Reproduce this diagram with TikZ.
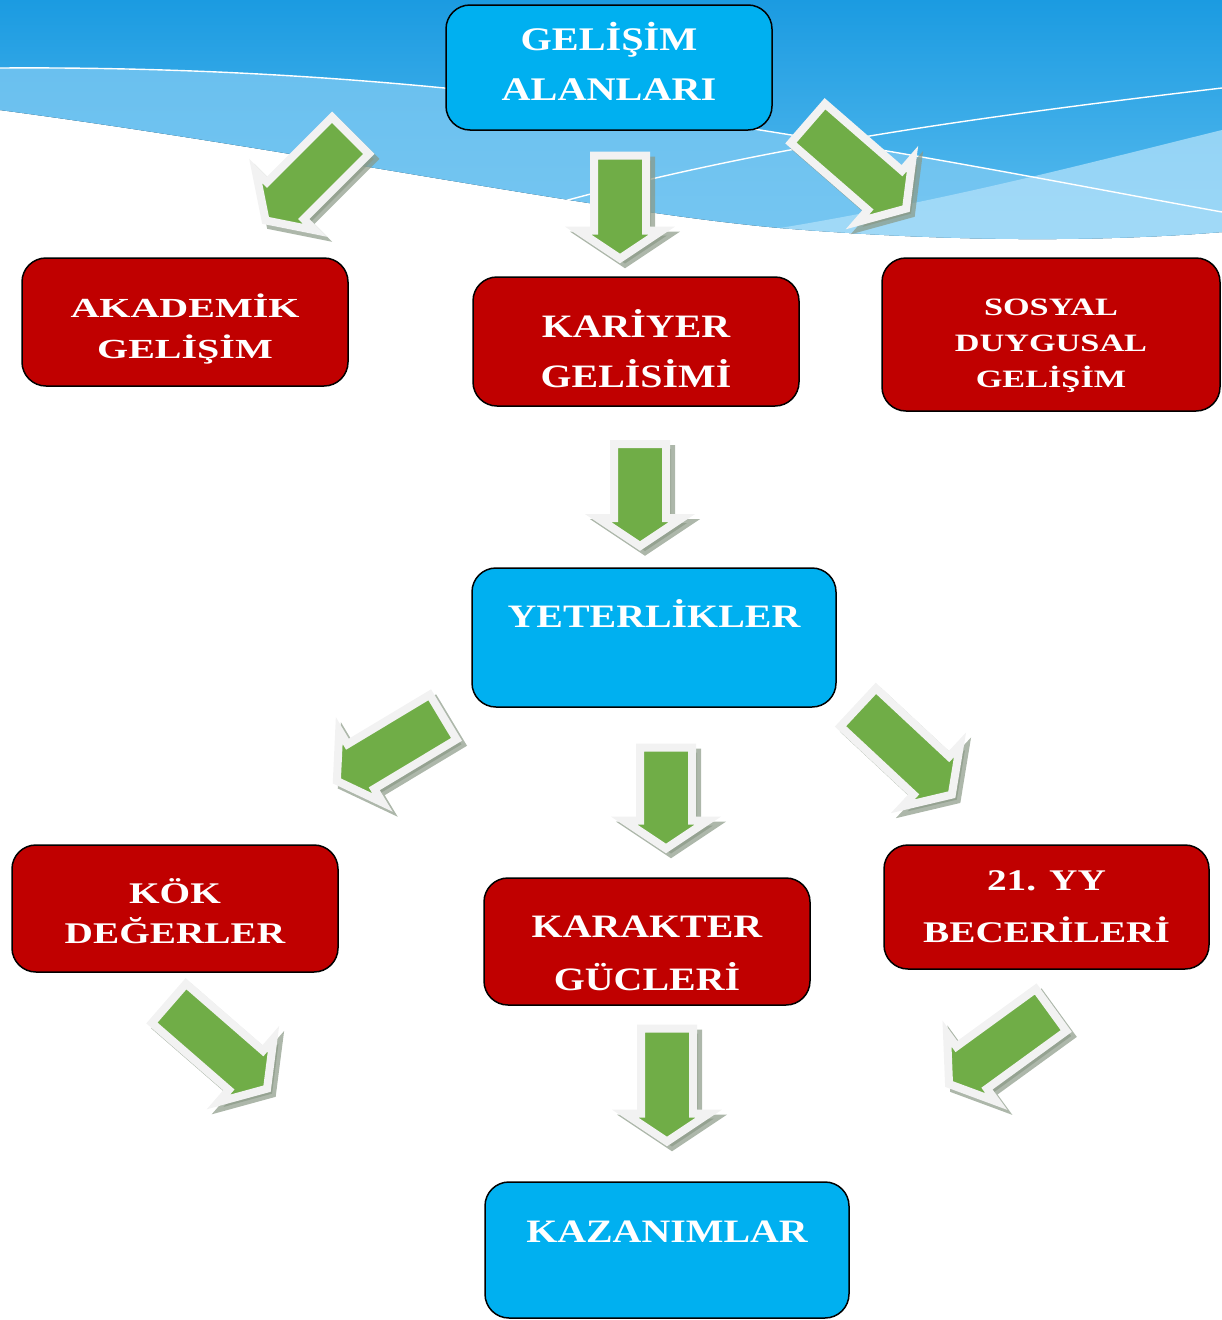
\documentclass[tikz,border=0pt]{standalone}
\usepackage{fontspec}
\usetikzlibrary{calc}

\setmainfont{Liberation Serif}
\newfontfamily\widefont[FakeStretch=1.22]{Liberation Serif}
\newfontfamily\widerfont[FakeStretch=1.31]{Liberation Serif}
\newfontfamily\sosyalfont[FakeStretch=1.37]{Liberation Serif}
\newfontfamily\widestfont[FakeStretch=1.45]{Liberation Serif}

\definecolor{skytop}{HTML}{1B9BE1}
\definecolor{skylow}{HTML}{5CBDEF}
\definecolor{skylight}{HTML}{7FCAF3}
\definecolor{skypale}{HTML}{ABDEF9}
\definecolor{boxcyan}{HTML}{00B0F0}
\definecolor{boxred}{HTML}{C00000}
\definecolor{arrowgreen}{HTML}{70AD47}
\definecolor{arrowrim}{HTML}{F2F2F2}
\definecolor{arrowshade}{HTML}{8A9986}

% struts that fix where the lines sit in a box
\newcommand{\capstrut}[1]{\rule{0pt}{#1pt}}
\newcommand{\footstrut}[1]{\rule[-#1pt]{0pt}{#1pt}}

% fat arrow pointing along +x, length #1
\newcommand{\arrowpath}[1]{(-#1/2,-26) -- (#1/2-28,-26) -- (#1/2-28,-42) -- (#1/2,0) -- (#1/2-28,42) -- (#1/2-28,26) -- (-#1/2,26) -- cycle}
% x, y, angle, length
\newcommand{\blockarrow}[4]{%
  \begin{scope}[shift={(#1+5,#2+5)}, rotate=#3]
    \filldraw[arrow shadow] \arrowpath{#4};
  \end{scope}
  \begin{scope}[shift={(#1,#2)}, rotate=#3]
    \filldraw[arrow body] \arrowpath{#4};
  \end{scope}}

\begin{document}
\begin{tikzpicture}[x=1pt,y=-1pt]
            \tikzstyle{main box} = [draw=black, line width=1.5pt, rounded corners=24pt, fill=boxcyan, text=white, inner sep=0pt]
            \tikzstyle{area box} = [main box, fill=boxred, align=center]
            \tikzstyle{arrow body} = [fill=arrowgreen, draw=arrowrim, line width=8pt]
            \tikzstyle{arrow shadow} = [fill=arrowshade, draw=arrowshade, line width=8pt, opacity=0.7]
            \tikzstyle{sky line} = [draw=white, line width=1.4pt]

            \useasboundingbox (0,0) rectangle (1222,1320);

            % sky at the top
            \fill[top color=skytop, bottom color=skylow] (0,0) -- (1222,0) -- (1222,232) .. controls (1100,242) and (950,242) .. (780,228) .. controls (600,212) and (300,150) .. (0,110) -- cycle;
            \fill[skylight, opacity=0.75] (0,68) .. controls (300,66) and (550,95) .. (760,130) .. controls (950,160) and (1100,190) .. (1222,212) -- (1222,232) .. controls (1100,242) and (950,242) .. (780,228) .. controls (600,212) and (300,150) .. (0,110) -- cycle;
            \fill[skypale, opacity=0.8] (780,228) .. controls (950,200) and (1100,160) .. (1222,130) -- (1222,232) .. controls (1100,242) and (950,242) .. (780,228) -- cycle;
            \draw[sky line] (0,68) .. controls (300,66) and (550,95) .. (760,130) .. controls (950,160) and (1100,190) .. (1222,212);
            \draw[sky line] (557,203) .. controls (750,150) and (950,120) .. (1222,88);

            % arrows
            \blockarrow{308}{178}{-135}{120}
            \blockarrow{620}{207}{-90}{103}
            \blockarrow{857}{166}{-41}{130}
            \blockarrow{640}{495}{-90}{102}
            \blockarrow{390}{749}{-149}{124}
            \blockarrow{666}{798}{-90}{101}
            \blockarrow{905}{751}{-43}{128}
            \blockarrow{218}{1046}{-41}{130}
            \blockarrow{667}{1085}{-90}{113}
            \blockarrow{1000}{1047}{-144}{126}

            % boxes
            \node[main box, align=center, minimum width=326pt, minimum height=125pt, font=\widefont\bfseries\fontsize{33}{50}\selectfont] (gelisim) at (609,67.5) {\capstrut{35}GELİŞİM\\ALANLARI\footstrut{20}};
            \node[area box, minimum width=326pt, minimum height=128pt, font=\widestfont\bfseries\fontsize{27.6}{41}\selectfont] (akademik) at (185,322) {\capstrut{40}AKADEMİK\\GELİŞİM\footstrut{9}};
            \node[area box, minimum width=326pt, minimum height=129pt, font=\widefont\bfseries\fontsize{32.7}{50}\selectfont] (kariyer) at (636,341.5) {\capstrut{48}KARİYER\\GELİSİMİ\footstrut{7}};
            \node[area box, minimum width=338pt, minimum height=153pt, font=\sosyalfont\bfseries\fontsize{25}{36}\selectfont] (sosyal) at (1051,334.5) {\capstrut{40}SOSYAL\\DUYGUSAL\\GELİŞİM\footstrut{7}};
            \node[main box, minimum width=364pt, minimum height=139pt, text height=24pt, text depth=45pt, font=\widefont\bfseries\fontsize{32.7}{45}\selectfont] (yeterlik) at (654,637.5) {YETERLİKLER};
            \node[area box, minimum width=326pt, minimum height=127pt, font=\widerfont\bfseries\fontsize{30}{40}\selectfont] (kok) at (175,908.5) {\capstrut{36}KÖK\\DEĞERLER\footstrut{7}};
            \node[area box, minimum width=326pt, minimum height=127pt, font=\widefont\bfseries\fontsize{32.7}{53}\selectfont] (karakter) at (647,941.5) {\capstrut{50}KARAKTER\\GÜCLERİ\footstrut{6}};
            \node[area box, minimum width=325pt, minimum height=124pt, font=\widerfont\bfseries\fontsize{30}{52}\selectfont] (beceri) at (1046.5,907) {\capstrut{28}21. YY\\BECERİLERİ\footstrut{10}};
            \node[main box, minimum width=364pt, minimum height=136pt, text height=24pt, text depth=40pt, font=\widefont\bfseries\fontsize{32.7}{45}\selectfont] (kazanim) at (667,1250) {KAZANIMLAR};

        \end{tikzpicture}
\end{document}
